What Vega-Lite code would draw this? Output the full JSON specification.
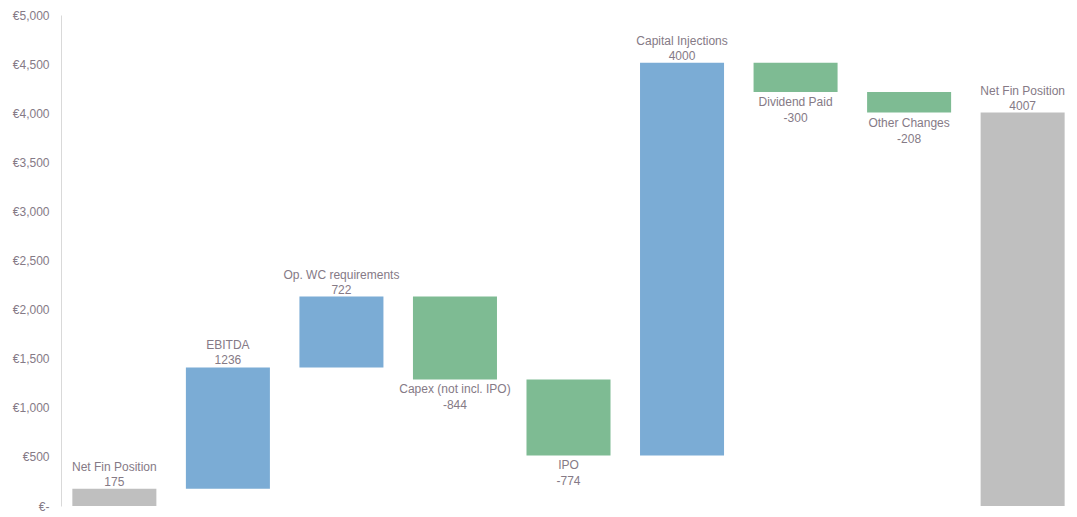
{
  "$schema": "https://vega.github.io/schema/vega-lite/v6.json",
  "autosize": "none",
  "width": 1015,
  "height": 491,
  "padding": {"left": 61, "top": 15, "right": 1, "bottom": 11},
  "background": "white",
  "config": {"view": {"stroke": null}, "font": "Liberation Sans"},
  "data": {
    "values": [
      {"step": 1, "name": "Net Fin Position", "value": 175, "start": 0, "end": 175, "kind": "total"},
      {"step": 2, "name": "EBITDA", "value": 1236, "start": 175, "end": 1411, "kind": "increase"},
      {"step": 3, "name": "Op. WC requirements", "value": 722, "start": 1411, "end": 2133, "kind": "increase"},
      {"step": 4, "name": "Capex (not incl. IPO)", "value": -844, "start": 2133, "end": 1289, "kind": "decrease"},
      {"step": 5, "name": "IPO", "value": -774, "start": 1289, "end": 515, "kind": "decrease"},
      {"step": 6, "name": "Capital Injections", "value": 4000, "start": 515, "end": 4515, "kind": "increase"},
      {"step": 7, "name": "Dividend Paid", "value": -300, "start": 4515, "end": 4215, "kind": "decrease"},
      {"step": 8, "name": "Other Changes", "value": -208, "start": 4215, "end": 4007, "kind": "decrease"},
      {"step": 9, "name": "Net Fin Position", "value": 4007, "start": 0, "end": 4007, "kind": "total"}
    ]
  },
  "encoding": {
    "x": {"field": "step", "type": "ordinal", "axis": null, "scale": {"paddingInner": 0.26, "paddingOuter": 0.1}}
  },
  "layer": [
    {
      "mark": {"type": "bar"},
      "encoding": {
        "y": {"field": "start", "type": "quantitative", "scale": {"domain": [0, 5000], "nice": false},
          "axis": {"title": null, "values": [0, 500, 1000, 1500, 2000, 2500, 3000, 3500, 4000, 4500, 5000],
            "labelExpr": "datum.value == 0 ? '€-' : '€' + format(datum.value, ',')",
            "grid": false, "ticks": false, "domainColor": "#d9d9d9", "domainWidth": 1,
            "labelColor": "#857a86", "labelFontSize": 12, "labelPadding": 12, "labelFont": "Liberation Sans"}},
        "y2": {"field": "end"},
        "color": {"field": "kind", "type": "nominal", "legend": null,
          "scale": {"domain": ["total", "increase", "decrease"], "range": ["#bfbfbf", "#7bacd5", "#7ebb93"]}}
      }
    },
    {
      "transform": [{"filter": "datum.value >= 0"}],
      "mark": {"type": "text", "baseline": "middle", "dy": -22, "fontSize": 12, "color": "#857a86"},
      "encoding": {"y": {"field": "end", "type": "quantitative"}, "text": {"field": "name"}}
    },
    {
      "transform": [{"filter": "datum.value >= 0"}],
      "mark": {"type": "text", "baseline": "middle", "dy": -7, "fontSize": 12, "color": "#857a86"},
      "encoding": {"y": {"field": "end", "type": "quantitative"}, "text": {"field": "value"}}
    },
    {
      "transform": [{"filter": "datum.value < 0"}],
      "mark": {"type": "text", "baseline": "middle", "dy": 10, "fontSize": 12, "color": "#857a86"},
      "encoding": {"y": {"field": "end", "type": "quantitative"}, "text": {"field": "name"}}
    },
    {
      "transform": [{"filter": "datum.value < 0"}],
      "mark": {"type": "text", "baseline": "middle", "dy": 26, "fontSize": 12, "color": "#857a86"},
      "encoding": {"y": {"field": "end", "type": "quantitative"}, "text": {"field": "value"}}
    }
  ]
}
